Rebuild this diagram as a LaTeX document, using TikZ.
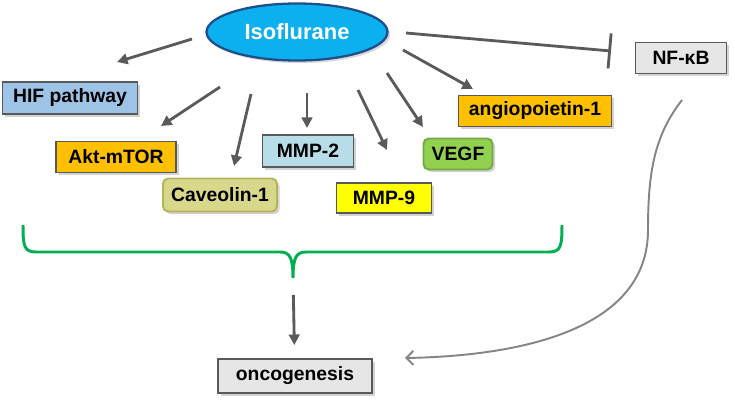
\documentclass[tikz,border=0pt]{standalone}
\usepackage{fontspec}
\setmainfont{Liberation Sans}
\usepackage{xcolor}
\usepackage{tikz}
\usetikzlibrary{arrows.meta,shapes.geometric,shadows,calc}
\definecolor{isoblue}{HTML}{0DB0EE}
\definecolor{isoline}{HTML}{1F4E8C}
\definecolor{boxline}{HTML}{595959}
\definecolor{hifblue}{HTML}{9DC3E6}
\definecolor{aktorange}{HTML}{FFC000}
\definecolor{cavfill}{HTML}{D7D88A}
\definecolor{cavline}{HTML}{B3B35C}
\definecolor{mmpcyan}{HTML}{B7DEE8}
\definecolor{mmpyellow}{HTML}{FFFF00}
\definecolor{vegffill}{HTML}{92D050}
\definecolor{vegfline}{HTML}{73A843}
\definecolor{greybox}{HTML}{E6E6E6}
\definecolor{bracegreen}{HTML}{00B050}
\definecolor{arrowgrey}{HTML}{5A5A5A}
\definecolor{curvegrey}{HTML}{858585}

\begin{document}
\begin{tikzpicture}[x=0.02cm,y=-0.02cm,
  box/.style={draw=boxline,line width=1.1pt,inner sep=0pt,minimum height=0.64cm,
    font=\fontsize{11}{13}\selectfont\bfseries,
    drop shadow={opacity=0.35,shadow xshift=1.5pt,shadow yshift=-1.5pt}},
  softbox/.style={box,rounded corners=3pt},
  act/.style={draw=arrowgrey,line width=1.6pt,-{Triangle[length=6pt,width=6pt]}}]
  \useasboundingbox (0,0) rectangle (735,409);
  \node [ellipse,draw=isoline,line width=1.3pt,fill=isoblue,text=white,
    minimum width=3.62cm,minimum height=1.14cm,inner sep=0pt,
    font=\fontsize{12.5}{14}\selectfont\bfseries,
    drop shadow={opacity=0.3,shadow xshift=1.5pt,shadow yshift=-1.5pt}] (iso) at (297,32) {Isoflurane};
  \node [box,fill=hifblue,minimum width=2.7cm] (hif) at (70,98) {HIF pathway};
  \node [box,fill=aktorange,minimum width=2.4cm,minimum height=0.62cm] (akt) at (116,157) {Akt-mTOR};
  \node [softbox,draw=cavline,fill=cavfill,minimum width=2.28cm,minimum height=0.66cm] (cav) at (220,195) {Caveolin-1};
  \node [box,fill=mmpcyan,minimum width=1.82cm] (mmp2) at (308,151) {MMP-2};
  \node [box,fill=mmpyellow,minimum width=1.9cm,minimum height=0.6cm] (mmp9) at (384,198) {MMP-9};
  \node [softbox,draw=vegfline,fill=vegffill,minimum width=1.38cm,minimum height=0.62cm] (vegf) at (458,154) {VEGF};
  \node [box,fill=aktorange,minimum width=3.06cm,minimum height=0.62cm] (angio) at (535,111) {angiopoietin-1};
  \node [box,fill=greybox,minimum width=1.82cm,minimum height=0.62cm] (nfkb) at (681,58) {NF-κB};
  \node [box,fill=greybox,minimum width=3.08cm,minimum height=0.68cm] (onco) at (295,376) {oncogenesis};

  \coordinate (hif-s) at (192,39);   \coordinate (hif-e) at (117,62);
  \coordinate (akt-s) at (220,87);   \coordinate (akt-e) at (161,126);
  \coordinate (cav-s) at (251,94);   \coordinate (cav-e) at (234,166);
  \coordinate (mmp2-s) at (307,93);  \coordinate (mmp2-e) at (307,128);
  \coordinate (mmp9-s) at (358,90);  \coordinate (mmp9-e) at (387,150);
  \coordinate (vegf-s) at (387,73);  \coordinate (vegf-e) at (423,127);
  \coordinate (angio-s) at (403,50); \coordinate (angio-e) at (473,89);
  \coordinate (nfkb-s) at (406,33);  \coordinate (nfkb-e) at (611,51);
  \coordinate (tip) at (293,278);
  \coordinate (nfkb-b) at (682,100); \coordinate (onco-r) at (405,358);

  \draw [act] (hif-s) -- (hif-e);
  \draw [act] (akt-s) -- (akt-e);
  \draw [act] (cav-s) -- (cav-e);
  \draw [act] (mmp2-s) -- (mmp2-e);
  \draw [act] (mmp9-s) -- (mmp9-e);
  \draw [act] (vegf-s) -- (vegf-e);
  \draw [act] (angio-s) -- (angio-e);
  \draw [draw=arrowgrey,line width=1.6pt,-{Bar[width=20pt,line width=1.6pt]}] (nfkb-s) -- (nfkb-e);

  \draw [bracegreen,line width=1.7pt]
    (23,225) .. controls (23,246) and (24,252) .. (36,252) -- (280,252)
    .. controls (290,252) and (293,258) .. (tip)
    .. controls (293,258) and (296,252) .. (306,252) -- (549,252)
    .. controls (561,252) and (562,246) .. (562,225);
  \draw [act,shorten <=0.34cm,shorten >=0.26cm] (tip) -- (onco);

  \draw [curvegrey,line width=1.1pt,-{Straight Barb[length=4pt,width=8pt]}]
    (nfkb-b) .. controls (655,135) and (648,170) .. (648,230)
    .. controls (648,330) and (520,356) .. (onco-r);
\end{tikzpicture}
\end{document}
